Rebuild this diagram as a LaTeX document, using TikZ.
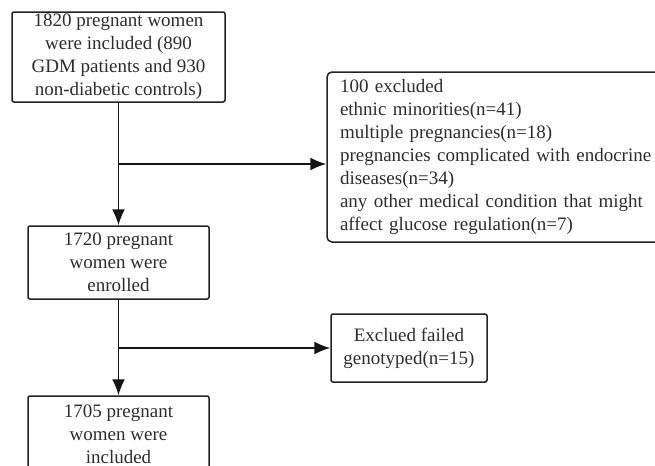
\documentclass[tikz,border=0pt]{standalone}
\usepackage{fontspec}
\setmainfont{Liberation Serif}
\usetikzlibrary{arrows.meta}
\begin{document}
\begin{tikzpicture}[x=0.5pt,y=-0.5pt]

	%DEFINICIONES
	\tikzstyle{every node}=[font=\fontsize{9.5}{11.5}\selectfont, text={rgb,255:red,45; green,45; blue,45}]
	\tikzstyle{caja} = [draw={rgb,255:red,35; green,35; blue,35}, line width=0.75pt, rounded corners=1pt, align=center, inner sep=0pt]
	\tikzstyle{lista} = [caja, rounded corners=2.5pt, align=left, inner xsep=6.5pt, text width=156pt]
	\tikzstyle{flecha} = [-{Latex[length=8pt, width=6.5pt]}, line width=0.75pt, draw={rgb,255:red,20; green,20; blue,20}]

	\clip (0,0) rectangle (655,466);

	%BLOQUES
	\draw(118.5,57) node[caja, minimum width=106.5pt, minimum height=45pt](1){1820 pregnant women\\were included (890\\GDM patients and 930\\non-diabetic controls)};
	\draw(118.5,262.5) node[caja, minimum width=90.5pt, minimum height=36.5pt](2){1720 pregnant\\women were\\enrolled};
	\draw(118.5,434.5) node[caja, minimum width=90.5pt, minimum height=38.5pt](4){1705 pregnant\\women were\\included};
	\draw(496,157) node[lista, minimum height=85pt](3){100 excluded\\ethnic minorities(n=41)\\multiple pregnancies(n=18)\\pregnancies complicated with endocrine\\diseases(n=34)\\any other medical condition that might\\affect glucose regulation(n=7)};
	\draw(409,348) node[caja, minimum width=78pt, minimum height=34pt](5){Exclued failed\\genotyped(n=15)};

	%FLECHAS
	\draw [flecha] (1.south) -- (2.north);
	\draw [flecha] (2.south) -- (4.north);

	\coordinate (r1) at (118.5,164);
	\draw [flecha] (r1) -- (r1 -| 3.west);

	\coordinate (r2) at (118.5,348);
	\draw [flecha] (r2) -- (5.west);
\end{tikzpicture}
\end{document}
